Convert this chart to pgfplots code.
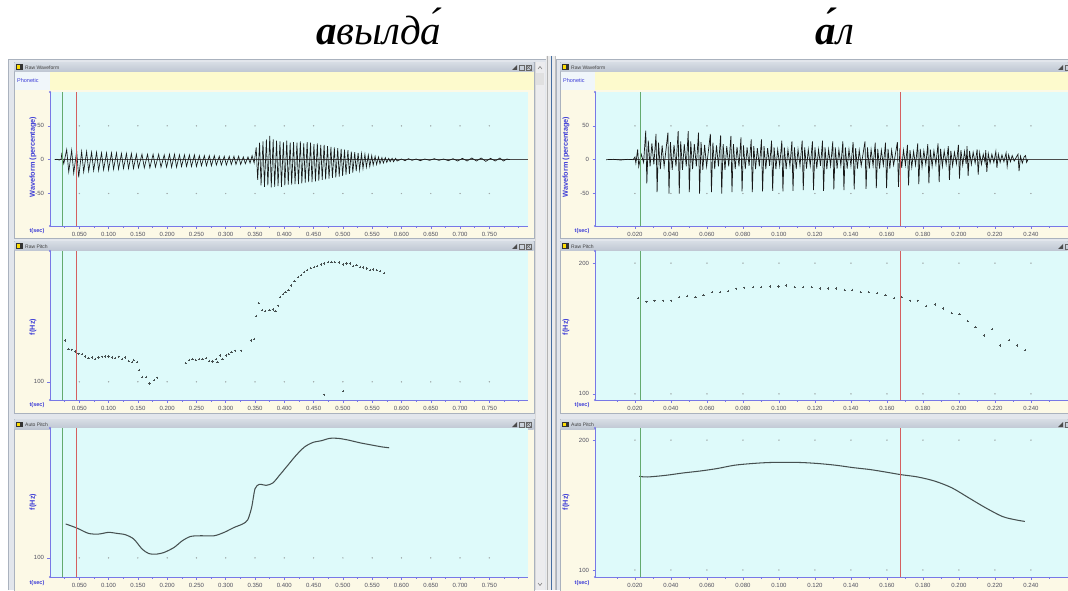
\documentclass[border=0pt]{standalone}
\usepackage{fontspec}
\setmainfont{Liberation Sans}
\newfontfamily\seriffont{Liberation Serif}
\usepackage{pgfplots}
\pgfplotsset{compat=1.18}
\definecolor{plotcyan}{RGB}{222,250,250}
\definecolor{beige}{RGB}{252,249,230}
\definecolor{phonyellow}{RGB}{253,250,205}
\definecolor{phonlabel}{RGB}{240,246,250}
\definecolor{tbtop}{RGB}{214,220,228}
\definecolor{tbbot}{RGB}{190,198,210}
\definecolor{winbg}{RGB}{226,230,236}
\definecolor{framegray}{RGB}{170,178,190}
\definecolor{axisblue}{RGB}{120,120,230}
\definecolor{labelblue}{RGB}{60,60,215}
\definecolor{tickgray}{RGB}{80,80,95}
\definecolor{cursorgreen}{RGB}{100,170,110}
\definecolor{cursorred}{RGB}{212,95,95}
\definecolor{wavecol}{RGB}{25,25,25}
\definecolor{pitchcol}{RGB}{70,80,80}
\definecolor{divblue}{RGB}{70,110,160}
\definecolor{scrollbg}{RGB}{236,236,238}
\definecolor{griddot}{RGB}{160,170,170}

\pgfplotsset{
  sa/.style={
    scale only axis, anchor=south west,
    axis x line=bottom, axis y line=left,
    axis line style={-, draw=axisblue, line width=0.7pt},
    every outer x axis line/.append style={-},
    every outer y axis line/.append style={-},
    axis background/.style={fill=plotcyan},
    tick style={draw=axisblue, line width=0.5pt},
    tick align=outside,
    major tick length=2.5pt, minor tick length=1.5pt,
    ticklabel style={font=\fontsize{6}{6}\selectfont, text=tickgray},
    /pgf/number format/assume math mode=true,
    scaled x ticks=false,
    xticklabel style={/pgf/number format/fixed, /pgf/number format/fixed zerofill, /pgf/number format/precision=3},
    clip mode=individual,
    after end axis/.code={
      \fill[axisblue] (rel axis cs:0,1) circle (1.2pt);
      \fill[axisblue] (rel axis cs:0,0) circle (1.2pt);
    },
  },
  leftax/.style={sa, width=478pt, xmin=0, xmax=0.816,
    xtick={0.05,0.10,0.15,0.20,0.25,0.30,0.35,0.40,0.45,0.50,0.55,0.60,0.65,0.70,0.75},
    minor xtick={0.025,0.075,0.125,0.175,0.225,0.275,0.325,0.375,0.425,0.475,0.525,0.575,0.625,0.675,0.725,0.775,0.8}},
  rightax/.style={sa, width=473pt, xmin=-0.0022, xmax=0.2606,
    xtick={0.02,0.04,0.06,0.08,0.10,0.12,0.14,0.16,0.18,0.20,0.22,0.24},
    minor xtick={0.01,0.03,0.05,0.07,0.09,0.11,0.13,0.15,0.17,0.19,0.21,0.23,0.25}},
  wave/.style={height=134pt, ymin=-98, ymax=100, ytick={-50,0,50}},
  cur/.style={line width=0.9pt},
  gd/.style={only marks, mark=*, mark size=0.45pt, griddot},
}

\begin{document}
\begin{tikzpicture}[x=1pt,y=1pt]
\useasboundingbox (0,0) rectangle (1068,590);
\clip (0,0) rectangle (1068,590);
\fill[white] (0,0) rectangle (1068,590);

\begin{scope}[shift={(0pt,590pt)}, x=1pt, y=-1pt]
  \fill[winbg] (8,59) rectangle (546,590);
  \fill[winbg] (556,59) rectangle (1068,590);
  \draw[framegray] (8.5,590) -- (8.5,59.5) -- (546,59.5);
  \draw[framegray] (556.5,590) -- (556.5,59.5) -- (1068,59.5);
  \foreach \L/\R in {14/534, 560/1068}{
    \foreach \T/\B in {62/238, 241/413, 419/592}{
      \fill[beige] (\L,\T) rectangle (\R,\B);
      \draw[framegray, line width=0.6pt] (\L,\T) rectangle (\R,\B);
      \shade[top color=tbtop, bottom color=tbbot] (\L+0.5,\T+0.5) rectangle (\R-0.5,\T+10);
      \fill[black!80] (\L+2,\T+2.5) rectangle (\L+9,\T+8);
      \fill[yellow!80!orange] (\L+3,\T+3.5) rectangle (\L+5.5,\T+7);
    }
  }
  \fill[phonlabel] (14.5,72.5) rectangle (50,90);
  \fill[phonyellow] (50,72.5) rectangle (533.5,90);
  \fill[phonlabel] (560.5,72.5) rectangle (595,90);
  \fill[phonyellow] (595,72.5) rectangle (1068,90);
  \foreach \X in {25, 571}{
    \node[anchor=west, inner sep=0, font=\fontsize{5}{5}\selectfont, text=black!75] at (\X,67.5) {Raw Waveform};
    \node[anchor=west, inner sep=0, font=\fontsize{5}{5}\selectfont, text=black!75] at (\X,246.5) {Raw Pitch};
    \node[anchor=west, inner sep=0, font=\fontsize{5}{5}\selectfont, text=black!75] at (\X,424.5) {Auto Pitch};
  }
  \foreach \T in {62,241,419}{
    \fill[black!70] (512,\T+8) -- (517,\T+8) -- (517,\T+3) -- cycle;
    \draw[black!60, line width=0.5pt] (519,\T+3) rectangle (524,\T+8);
    \draw[black!60, line width=0.5pt] (526,\T+3) rectangle (531,\T+8);
    \draw[black!60, line width=0.4pt] (526,\T+3) -- (531,\T+8) (531,\T+3) -- (526,\T+8);
    \fill[black!70] (1058,\T+8) -- (1063,\T+8) -- (1063,\T+3) -- cycle;
    \draw[black!60, line width=0.5pt] (1065,\T+3) rectangle (1070,\T+8);
  }
  \fill[scrollbg] (535,62) rectangle (545,590);
  \draw[black!15] (535,62) -- (535,590);
  \fill[black!12] (536,73) rectangle (544,85);
  \draw[black!55, line width=0.5pt] (538,69) -- (540,66.5) -- (542,69);
  \draw[black!55, line width=0.5pt] (538,583) -- (540,585.5) -- (542,583);
  \fill[black!8] (546,56) rectangle (556,590);
  \draw[black!30] (547,56) -- (547,590);
  \draw[divblue, line width=1.6pt] (551.5,56) -- (551.5,590);
  \draw[black!25] (555,56) -- (555,590);
\end{scope}

% ================= LEFT: Raw Waveform
\begin{axis}[leftax, wave, at={(50pt,364pt)}]
\addplot[gd] coordinates {(0.05,50)(0.10,50)(0.15,50)(0.20,50)(0.25,50)(0.30,50)(0.35,50)(0.40,50)(0.45,50)(0.50,50)(0.55,50)(0.60,50)(0.65,50)(0.70,50)(0.75,50)(0.05,-50)(0.10,-50)(0.15,-50)(0.20,-50)(0.25,-50)(0.30,-50)(0.35,-50)(0.40,-50)(0.45,-50)(0.50,-50)(0.55,-50)(0.60,-50)(0.65,-50)(0.70,-50)(0.75,-50)};
\addplot[black!70, line width=0.5pt] coordinates {(0.008,0)(0.816,0)};
\addplot[wavecol, line width=0.65pt] coordinates {
(0.0080,0)(0.0120,0.6)(0.0160,-0.6)(0.0190,0.8)
(0.0200,8)(0.0235,-6)(0.0285,15)(0.0320,-18)(0.0370,14)(0.0405,-20)(0.0455,13)(0.0490,-26)(0.0540,12)(0.0575,-18)(0.0625,12)(0.0660,-17)(0.0710,11)(0.0745,-16)(0.0795,11)(0.0830,-16)(0.0880,10)(0.0915,-15)(0.0965,10)(0.1000,-15)(0.1050,10)(0.1085,-14)(0.1135,10)(0.1170,-14)(0.1220,9)(0.1255,-13)(0.1305,9)(0.1340,-13)(0.1390,9)(0.1425,-13)(0.1475,8)(0.1510,-12)(0.1570,8)(0.1610,-12)(0.1665,8)(0.1705,-12)(0.1760,8)(0.1800,-11)(0.1855,8)(0.1895,-11)(0.1950,7)(0.1990,-11)(0.2040,8)(0.2075,-11)(0.2125,8)(0.2160,-11)(0.2210,7)(0.2245,-10)(0.2295,7)(0.2330,-10)(0.2380,7)(0.2415,-10)(0.2465,7)(0.2500,-10)(0.2550,6)(0.2585,-9)(0.2635,6)(0.2670,-9)(0.2720,6)(0.2755,-9)(0.2805,6)(0.2840,-8)(0.2890,5)(0.2925,-8)(0.2975,5)(0.3010,-8)(0.3060,5)(0.3095,-7)(0.3140,5)(0.3175,-7)(0.3220,5)(0.3255,-7)(0.3300,4)(0.3335,-6)(0.3380,4)(0.3415,-5)(0.3450,6)(0.3485,-5)
(0.3520,18)(0.3545,-30)(0.3578,25)(0.3603,-38)(0.3636,27)(0.3661,-40)(0.3694,30)(0.3719,-38)(0.3752,35)(0.3777,-41)(0.3810,30)(0.3835,-40)(0.3868,28)(0.3893,-39)(0.3926,27)(0.3951,-40)(0.3984,26)(0.4009,-38)(0.4042,28)(0.4067,-37)(0.4100,25)(0.4125,-37)(0.4158,26)(0.4183,-36)(0.4216,25)(0.4241,-36)(0.4274,27)(0.4299,-35)(0.4332,24)(0.4357,-34)(0.4390,26)(0.4415,-33)(0.4448,25)(0.4473,-33)(0.4506,23)(0.4531,-32)(0.4564,24)(0.4589,-31)(0.4622,22)(0.4647,-30)(0.4680,22)(0.4705,-29)(0.4738,20)(0.4763,-28)(0.4796,19)(0.4821,-27)(0.4854,18)(0.4879,-26)(0.4912,17)(0.4937,-25)(0.4970,16)(0.4995,-24)(0.5028,15)(0.5053,-22)(0.5086,14)(0.5111,-21)(0.5144,12)(0.5169,-19)(0.5202,11)(0.5227,-17)(0.5260,10)(0.5285,-15)(0.5318,9)(0.5343,-13)(0.5376,8)(0.5401,-11)(0.5434,7)(0.5459,-10)(0.5492,6)(0.5517,-8)(0.5550,5)(0.5575,-7)(0.5608,4)(0.5633,-6)(0.5666,3)(0.5691,-5)(0.5724,3)(0.5749,-4)(0.5782,2)(0.5807,-3)(0.5840,2)(0.5865,-3)(0.5900,2)(0.5925,-2)
(0.6000,1)(0.6060,-1.5)(0.6120,1.5)(0.6180,-1)(0.6250,1)(0.6320,-1.5)(0.6400,1)(0.6480,-1)(0.6560,1.5)(0.6640,-1)(0.6720,1)(0.6800,-1.5)(0.6880,1.5)(0.6960,-2)(0.7040,2)(0.7120,-2)(0.7200,2.5)(0.7280,-2)(0.7360,2.5)(0.7440,-2.5)(0.7520,2)(0.7600,-2)(0.7680,2.5)(0.7740,-2)(0.7800,1)(0.7850,0)
};
\addplot[cursorgreen, cur] coordinates {(0.0217,-98)(0.0217,100)};
\addplot[cursorred, cur] coordinates {(0.0460,-98)(0.0460,100)};
\end{axis}

% ================= LEFT: Raw Pitch
\begin{axis}[leftax, at={(50pt,190pt)}, height=149pt, ymin=86.2, ymax=199.2, ytick={100}]
\addplot[gd] coordinates {(0.05,100)(0.10,100)(0.15,100)(0.20,100)(0.25,100)(0.30,100)(0.35,100)(0.40,100)(0.45,100)(0.50,100)(0.55,100)(0.60,100)(0.65,100)(0.70,100)(0.75,100)};
\addplot[only marks, mark=+, mark size=1.1pt, pitchcol, mark options={line width=0.55pt}] coordinates {
(0.0257,131.3)(0.0315,124.9)(0.0370,124.3)(0.0430,123.0)(0.0486,121.3)(0.0543,121.0)(0.0600,119.2)(0.0658,117.9)(0.0715,118.5)(0.0772,117.4)(0.0829,118.5)(0.0887,119.0)(0.0944,119.2)(0.1000,119.2)(0.1058,118.5)(0.1115,117.9)(0.1172,119.0)(0.1230,117.4)(0.1287,118.5)(0.1344,115.9)(0.1400,114.9)(0.1430,116.7)(0.1487,114.9)(0.1516,109.0)(0.1573,103.8)(0.1642,103.8)(0.1699,98.7)(0.1773,101.3)(0.1830,103.1)
(0.2316,114.1)(0.2373,116.7)(0.2431,117.4)(0.2488,116.7)(0.2545,117.4)(0.2602,117.2)(0.2660,117.9)(0.2717,115.9)(0.2774,115.4)(0.2831,117.2)(0.2860,114.9)(0.2900,120.0)(0.2946,117.4)(0.3003,120.0)(0.3049,121.0)(0.3100,122.6)(0.3157,123.6)(0.3260,123.6)(0.3432,131.3)(0.3488,132.6)(0.3518,150.0)(0.3563,159.5)(0.3620,154.4)(0.3677,153.8)(0.3746,154.4)(0.3804,154.9)(0.3849,153.8)(0.3890,157.7)(0.3929,164.1)(0.3975,166.7)(0.4020,167.9)(0.4072,169.7)(0.4118,173.1)(0.4175,176.4)(0.4233,179.5)(0.4290,180.8)(0.4336,183.3)(0.4393,184.6)(0.4450,186.4)(0.4507,187.2)(0.4564,187.7)(0.4633,189.0)(0.4678,189.7)(0.4747,191.0)(0.4804,191.0)(0.4861,190.8)(0.4930,190.5)(0.5005,189.0)(0.5062,189.7)(0.5119,189.7)(0.5176,187.7)(0.5233,188.5)(0.5290,187.2)(0.5348,186.7)(0.5405,185.9)(0.5462,184.6)(0.5520,185.1)(0.5577,184.6)(0.5633,184.1)(0.5708,182.5)
(0.4678,90.2)(0.5005,92.8)
};
\addplot[cursorgreen, cur] coordinates {(0.0217,86.2)(0.0217,199.2)};
\addplot[cursorred, cur] coordinates {(0.0460,86.2)(0.0460,199.2)};
\end{axis}

% ================= LEFT: Auto Pitch
\begin{axis}[leftax, at={(50pt,13pt)}, height=149pt, ymin=85.4, ymax=199.2, ytick={100}]
\addplot[gd] coordinates {(0.05,100)(0.10,100)(0.15,100)(0.20,100)(0.25,100)(0.30,100)(0.35,100)(0.40,100)(0.45,100)(0.50,100)(0.55,100)(0.60,100)(0.65,100)(0.70,100)(0.75,100)};
\addplot[pitchcol, line width=1.05pt, smooth, tension=0.45] coordinates {
(0.0269,125.9)(0.0458,122.8)(0.0658,118.7)(0.0829,118.2)(0.1000,119.5)(0.1144,118.7)(0.1287,117.7)(0.1430,114.4)(0.1573,106.7)(0.1687,103.3)(0.1802,102.8)(0.1944,104.1)(0.2116,107.9)(0.2259,113.1)(0.2402,116.4)(0.2574,116.9)(0.2802,116.9)(0.2974,119.5)(0.3146,123.3)(0.3289,125.9)(0.3375,129.0)(0.3443,138.7)(0.3500,152.8)(0.3575,156.2)(0.3689,155.4)(0.3804,157.2)(0.3918,163.1)(0.4061,170.8)(0.4204,178.5)(0.4347,184.8)(0.4490,188.2)(0.4633,189.5)(0.4776,191.3)(0.4919,191.3)(0.5091,190.0)(0.5290,187.9)(0.5491,186.2)(0.5662,184.8)(0.5788,184.1)
};
\addplot[cursorgreen, cur] coordinates {(0.0217,85.4)(0.0217,199.2)};
\addplot[cursorred, cur] coordinates {(0.0460,85.4)(0.0460,199.2)};
\end{axis}

% ================= RIGHT: Raw Waveform
\begin{axis}[rightax, wave, at={(595pt,364pt)}]
\addplot[gd] coordinates {(0.02,50)(0.04,50)(0.06,50)(0.08,50)(0.10,50)(0.12,50)(0.14,50)(0.16,50)(0.18,50)(0.20,50)(0.22,50)(0.24,50)(0.02,-50)(0.04,-50)(0.06,-50)(0.08,-50)(0.10,-50)(0.12,-50)(0.14,-50)(0.16,-50)(0.18,-50)(0.20,-50)(0.22,-50)(0.24,-50)};
\addplot[black!70, line width=0.5pt] coordinates {(0.006,0)(0.2606,0)};
\addplot[wavecol, line width=0.7pt] coordinates {
(0.0040,0)(0.0080,0.5)(0.0120,-0.5)(0.0160,0.5)(0.0190,0)(0.0200,4)(0.0205,-5)(0.0215,15)(0.0221,-10)(0.0235,8)(0.0248,-4)
(0.0260,43)(0.0266,-35)(0.0274,28)(0.0284,-10)(0.0294,24)(0.0305,-7)
(0.0317,38)(0.0323,-48)(0.0331,25)(0.0341,-14)(0.0351,21)(0.0362,-10)
(0.0383,40)(0.0389,-50)(0.0397,26)(0.0407,-15)(0.0417,22)(0.0428,-10)
(0.0440,42)(0.0446,-50)(0.0454,27)(0.0464,-15)(0.0474,23)(0.0485,-10)
(0.0496,42)(0.0502,-48)(0.0510,27)(0.0520,-14)(0.0530,23)(0.0541,-10)
(0.0553,40)(0.0559,-50)(0.0567,26)(0.0577,-15)(0.0587,22)(0.0598,-10)
(0.0619,38)(0.0625,-48)(0.0633,25)(0.0643,-14)(0.0653,21)(0.0664,-10)
(0.0676,36)(0.0682,-50)(0.0690,23)(0.0700,-15)(0.0710,20)(0.0721,-10)
(0.0733,35)(0.0739,-48)(0.0747,23)(0.0757,-14)(0.0767,19)(0.0778,-10)
(0.0789,33)(0.0795,-47)(0.0803,21)(0.0813,-14)(0.0823,18)(0.0834,-9)
(0.0846,30)(0.0852,-48)(0.0860,20)(0.0870,-14)(0.0880,17)(0.0891,-10)
(0.0903,30)(0.0909,-47)(0.0917,20)(0.0927,-14)(0.0937,17)(0.0948,-9)
(0.0959,28)(0.0965,-46)(0.0973,18)(0.0983,-14)(0.0993,15)(0.1004,-9)
(0.1016,28)(0.1022,-47)(0.1030,18)(0.1040,-14)(0.1050,15)(0.1061,-9)
(0.1072,27)(0.1078,-46)(0.1086,18)(0.1096,-14)(0.1106,15)(0.1117,-9)
(0.1129,28)(0.1135,-45)(0.1143,18)(0.1153,-13)(0.1163,15)(0.1174,-9)
(0.1186,27)(0.1192,-45)(0.1200,18)(0.1210,-13)(0.1220,15)(0.1231,-9)
(0.1242,28)(0.1248,-46)(0.1256,18)(0.1266,-14)(0.1276,15)(0.1287,-9)
(0.1299,27)(0.1305,-44)(0.1313,18)(0.1323,-13)(0.1333,15)(0.1344,-9)
(0.1355,27)(0.1361,-45)(0.1369,18)(0.1379,-13)(0.1389,15)(0.1400,-9)
(0.1412,26)(0.1418,-44)(0.1426,17)(0.1436,-13)(0.1446,14)(0.1457,-9)
(0.1478,27)(0.1484,-43)(0.1492,18)(0.1502,-13)(0.1512,15)(0.1523,-9)
(0.1535,25)(0.1541,-42)(0.1549,16)(0.1559,-13)(0.1569,14)(0.1580,-8)
(0.1592,25)(0.1598,-42)(0.1606,16)(0.1616,-13)(0.1626,14)(0.1637,-8)
(0.1658,26)(0.1664,-40)(0.1672,17)(0.1682,-12)(0.1692,14)(0.1703,-8)
(0.1714,22)(0.1720,-38)(0.1728,14)(0.1738,-11)(0.1748,12)(0.1759,-8)
(0.1771,24)(0.1777,-36)(0.1785,16)(0.1795,-11)(0.1805,13)(0.1816,-7)
(0.1827,23)(0.1833,-35)(0.1841,15)(0.1851,-10)(0.1861,13)(0.1872,-7)
(0.1884,24)(0.1890,-33)(0.1898,16)(0.1908,-10)(0.1918,13)(0.1929,-7)
(0.1941,20)(0.1947,-30)(0.1955,13)(0.1965,-9)(0.1975,11)(0.1986,-6)
(0.1997,22)(0.2003,-28)(0.2011,14)(0.2021,-8)(0.2031,12)(0.2040,-6)
(0.2045,20)(0.2051,-24)(0.2059,13)(0.2069,-7)(0.2079,11)(0.2090,-5)
(0.2101,15)(0.2107,-22)(0.2115,10)(0.2125,-7)(0.2135,8)(0.2145,-4)
(0.2149,14)(0.2155,-18)(0.2163,9)(0.2173,-5)(0.2183,8)(0.2194,-4)
(0.2205,12)(0.2211,-12)(0.2219,8)(0.2229,-4)(0.2239,7)(0.2250,-3)
(0.2262,10)(0.2268,-10)(0.2276,7)(0.2286,-3)(0.2296,6)(0.2307,-2)
(0.2328,8)(0.2334,-17)(0.2342,5)(0.2352,-5)(0.2362,4)
(0.2370,6)(0.2376,-4)(0.2383,0)
};
\addplot[cursorgreen, cur] coordinates {(0.0228,-98)(0.0228,100)};
\addplot[cursorred, cur] coordinates {(0.1675,-98)(0.1675,100)};
\end{axis}

% ================= RIGHT: Raw Pitch
\begin{axis}[rightax, at={(595pt,190pt)}, height=149pt, ymin=95.3, ymax=209.3, ytick={100,200}]
\addplot[gd] coordinates {(0.02,100)(0.04,100)(0.06,100)(0.08,100)(0.10,100)(0.12,100)(0.14,100)(0.16,100)(0.18,100)(0.20,100)(0.22,100)(0.24,100)(0.02,200)(0.04,200)(0.06,200)(0.08,200)(0.10,200)(0.12,200)(0.14,200)(0.16,200)(0.18,200)(0.20,200)(0.22,200)(0.24,200)};
\addplot[only marks, mark=+, mark size=1.1pt, pitchcol, mark options={line width=0.55pt}] coordinates {
(0.0219,173.4)(0.0264,170.5)(0.0309,171.3)(0.0355,171.3)(0.0400,171.3)(0.0445,173.9)(0.0490,175.0)(0.0536,173.9)(0.0581,175.7)(0.0627,177.8)(0.0672,177.8)(0.0717,178.5)(0.0763,180.4)(0.0808,181.2)(0.0855,181.7)(0.0902,181.7)(0.0950,182.2)(0.0997,182.2)(0.1038,182.9)(0.1087,181.7)(0.1133,181.7)(0.1182,181.7)(0.1227,180.6)(0.1273,180.6)(0.1318,180.6)(0.1365,179.6)(0.1408,179.6)(0.1454,177.8)(0.1499,177.8)(0.1544,177.0)(0.1592,175.7)(0.1639,173.4)(0.1682,173.9)(0.1730,171.3)(0.1771,171.3)(0.1818,167.2)(0.1866,168.4)(0.1913,165.3)(0.1960,162.0)(0.2003,161.0)(0.2049,155.8)(0.2092,151.2)(0.2139,144.7)(0.2183,149.4)(0.2230,137.0)(0.2277,141.3)(0.2322,137.0)(0.2366,133.3)
};
\addplot[cursorgreen, cur] coordinates {(0.0228,95.3)(0.0228,209.3)};
\addplot[cursorred, cur] coordinates {(0.1675,95.3)(0.1675,209.3)};
\end{axis}

% ================= RIGHT: Auto Pitch
\begin{axis}[rightax, at={(595pt,13pt)}, height=149pt, ymin=94.6, ymax=209.3, ytick={100,200}]
\addplot[gd] coordinates {(0.02,100)(0.04,100)(0.06,100)(0.08,100)(0.10,100)(0.12,100)(0.14,100)(0.16,100)(0.18,100)(0.20,100)(0.22,100)(0.24,100)(0.02,200)(0.04,200)(0.06,200)(0.08,200)(0.10,200)(0.12,200)(0.14,200)(0.16,200)(0.18,200)(0.20,200)(0.22,200)(0.24,200)};
\addplot[pitchcol, line width=1.05pt, smooth, tension=0.5] coordinates {
(0.0223,172.1)(0.0270,171.6)(0.0373,172.9)(0.0468,174.7)(0.0563,176.2)(0.0657,178.1)(0.0751,180.6)(0.0846,181.9)(0.0940,182.7)(0.1035,182.9)(0.1129,182.7)(0.1223,181.9)(0.1318,180.6)(0.1412,178.8)(0.1507,177.3)(0.1601,175.2)(0.1677,173.4)(0.1771,171.6)(0.1866,168.4)(0.1960,163.3)(0.2054,155.6)(0.2149,147.8)(0.2243,141.1)(0.2319,138.5)(0.2366,137.4)
};
\addplot[cursorgreen, cur] coordinates {(0.0228,94.6)(0.0228,209.3)};
\addplot[cursorred, cur] coordinates {(0.1675,94.6)(0.1675,209.3)};
\end{axis}

\begin{scope}[shift={(0pt,590pt)}, x=1pt, y=-1pt]
  \foreach \X/\XT/\XP in {33/37/17, 566/582/563}{
    \node[rotate=90, text=labelblue, font=\bfseries\fontsize{7.3}{7.3}\selectfont, inner sep=0] at (\X,157) {Waveform (percentage)};
    \node[rotate=90, text=labelblue, font=\bfseries\fontsize{7.3}{7.3}\selectfont, inner sep=0] at (\X,327) {f(Hz)};
    \node[rotate=90, text=labelblue, font=\bfseries\fontsize{7.3}{7.3}\selectfont, inner sep=0] at (\X,502) {f(Hz)};
    \node[text=labelblue, font=\bfseries\fontsize{5.5}{5.5}\selectfont, inner sep=0] at (\XT,231) {t(sec)};
    \node[text=labelblue, font=\bfseries\fontsize{5.5}{5.5}\selectfont, inner sep=0] at (\XT,405) {t(sec)};
    \node[text=labelblue, font=\bfseries\fontsize{5.5}{5.5}\selectfont, inner sep=0] at (\XT,583) {t(sec)};
    \node[anchor=west, text=labelblue, font=\fontsize{5.5}{5.5}\selectfont, inner sep=0] at (\XP,81) {Phonetic};
  }
  \node[anchor=base, inner sep=0, font=\seriffont\fontsize{41}{41}\selectfont] at (379,45) {\textbf{\textit{а}}\textit{вылда́}};
  \node[anchor=base, inner sep=0, font=\seriffont\fontsize{41}{41}\selectfont] at (835,45) {\textbf{\textit{а́}}\textit{л}};
\end{scope}
\end{tikzpicture}
\end{document}
